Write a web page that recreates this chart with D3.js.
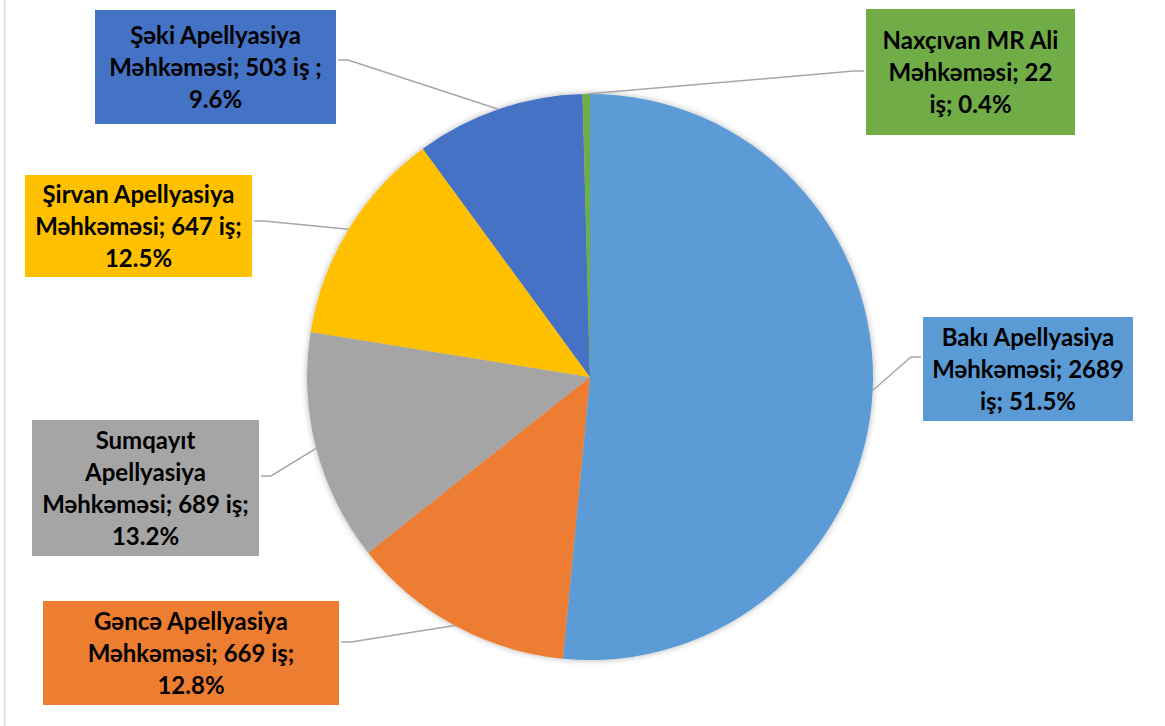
<!DOCTYPE html>
<meta charset="utf-8">
<style>
body { margin: 0; background: #fff; }
.leader { fill: none; stroke: #a6a6a6; stroke-width: 1.5px; }
.lbl text { font-family: Lato, "Open Sans", sans-serif; font-weight: bold; font-size: 24px; fill: #000; }
</style>
<body>
<script src="https://cdn.jsdelivr.net/npm/d3@7"></script>
<script>

// data
var categories = ["Bakı", "Gəncə", "Sumqayıt", "Şirvan", "Şəki", "Naxçıvan"];
var values = [2689, 669, 689, 647, 503, 22];
var percents = ["51.5%", "12.8%", "13.2%", "12.5%", "9.6%", "0.4%"];
var labelLines = [
  ["Bakı Apellyasiya", "Məhkəməsi; 2689", "iş; 51.5%"],
  ["Gəncə Apellyasiya", "Məhkəməsi; 669 iş;", "12.8%"],
  ["Sumqayıt", "Apellyasiya", "Məhkəməsi; 689 iş;", "13.2%"],
  ["Şirvan Apellyasiya", "Məhkəməsi; 647 iş;", "12.5%"],
  ["Şəki Apellyasiya", "Məhkəməsi; 503 iş ;", "9.6%"],
  ["Naxçıvan MR Ali", "Məhkəməsi; 22", "iş; 0.4%"]
];
var colors = ["#5b9bd5", "#ed7d31", "#a5a5a5", "#ffc000", "#4472c4", "#70ad47"];

// label box layout [x0, y0, x1, y1] and where the leader line meets the box
var boxes = [
  [923, 317, 1133, 421],
  [43, 601, 339, 705],
  [32, 420, 259, 556],
  [25, 175, 252, 277],
  [95, 10, 336, 124],
  [866, 9, 1075, 135]
];
var leaderY = [357, 642, 476, 221, 60, 71];

var width = 1165, height = 726;
var cx = 590, cy = 377, r = 283;
var lineH = 32;

var svg = d3.select("body").append("svg")
    .attr("width", width)
    .attr("height", height);

var defs = svg.append("defs");
var f = defs.append("filter").attr("id", "shadow")
    .attr("x", "-10%").attr("y", "-10%").attr("width", "120%").attr("height", "120%");
f.append("feDropShadow").attr("dx", 0).attr("dy", 0)
    .attr("stdDeviation", 3).attr("flood-color", "#000").attr("flood-opacity", 0.3);

// left border of the chart area
svg.append("line")
    .attr("x1", 4.5).attr("x2", 4.5).attr("y1", 0).attr("y2", height)
    .style("stroke", "#d9d9d9").style("stroke-width", 1.5);

var pie = d3.pie().sort(null).value(function(d) { return d; });
var arcs = pie(values);

var arc = d3.arc().innerRadius(0).outerRadius(r);
var edge = d3.arc().innerRadius(r).outerRadius(r);

var g = svg.append("g").attr("transform", "translate(" + cx + "," + cy + ")");

g.append("g").attr("filter", "url(#shadow)")
  .selectAll("path")
  .data(arcs)
  .enter().append("path")
    .attr("d", arc)
    .style("fill", function(d, i) { return colors[i]; });

// leader lines: slice edge -> short elbow -> box side
arcs.forEach(function(d, i) {
  var p = edge.centroid(d);
  var b = boxes[i];
  var px = p[0] + cx, py = p[1] + cy;
  var ly = leaderY[i];
  var bx, ex;
  if (b[0] > px) { bx = b[0] - 2; ex = bx - 10; }
  else { bx = b[2] + 2; ex = bx + 10; }
  svg.append("path")
      .attr("class", "leader")
      .attr("d", d3.line()([[px, py], [ex, ly], [bx, ly]]));
});

// label boxes
var lbl = svg.selectAll(".lbl")
  .data(arcs)
  .enter().append("g")
    .attr("class", "lbl");

lbl.append("rect")
    .attr("x", function(d, i) { return boxes[i][0]; })
    .attr("y", function(d, i) { return boxes[i][1]; })
    .attr("width", function(d, i) { return boxes[i][2] - boxes[i][0]; })
    .attr("height", function(d, i) { return boxes[i][3] - boxes[i][1]; })
    .style("fill", function(d, i) { return colors[i]; });

lbl.each(function(d, i) {
  var b = boxes[i];
  var lines = labelLines[i];
  var mx = (b[0] + b[2]) / 2;
  var my = (b[1] + b[3]) / 2;
  var top = my - (lines.length - 1) * lineH / 2;
  var t = d3.select(this).append("text")
      .attr("text-anchor", "middle");
  lines.forEach(function(s, k) {
    t.append("tspan")
        .attr("x", mx)
        .attr("y", top + k * lineH)
        .attr("dy", "0.36em")
        .text(s);
  });
});

</script>
</body>
